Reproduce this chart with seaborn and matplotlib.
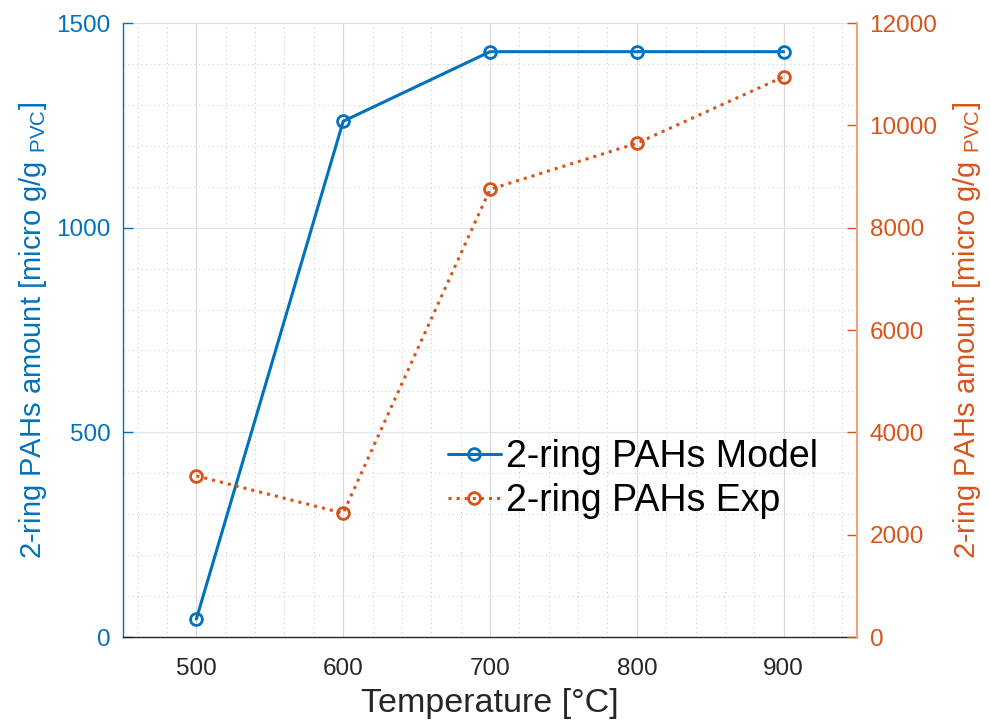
import numpy as np
import pandas as pd
import matplotlib
matplotlib.use('Agg')
import matplotlib.pyplot as plt
from matplotlib.ticker import MultipleLocator
import seaborn as sns

# data
temperature = [500, 600, 700, 800, 900]
model_amount = [44, 1260, 1430, 1430, 1430]
exp_amount = [3150, 2420, 8750, 9650, 10950]

blue = '#0072BD'
orange = '#D95319'
dark = '#262626'

sns.set_style('white')
plt.rcParams['font.family'] = ['Liberation Sans', 'DejaVu Sans']
plt.rcParams['mathtext.fontset'] = 'custom'
plt.rcParams['mathtext.rm'] = 'Liberation Sans'
plt.rcParams['mathtext.it'] = 'Liberation Sans'

df = pd.DataFrame({'T': temperature, 'model': model_amount, 'exp': exp_amount})

fig = plt.figure(figsize=(9.9, 7.22), dpi=100)
ax = fig.add_axes([0.1242, 0.1177, 0.7415, 0.8504])
ax2 = ax.twinx()

sns.lineplot(data=df, x='T', y='model', ax=ax, color=blue, lw=2.2,
             marker='o', markersize=8.5, markerfacecolor='none',
             markeredgewidth=2, markeredgecolor=blue, label='2-ring PAHs Model',
             legend=False)
sns.lineplot(data=df, x='T', y='exp', ax=ax2, color=orange, lw=2.2, ls=':',
             marker='o', markersize=8.5, markerfacecolor='none',
             markeredgewidth=2, markeredgecolor=orange, label='2-ring PAHs Exp',
             legend=False)

ax.set_xlim(450, 950)
ax.set_ylim(0, 1500)
ax2.set_ylim(0, 12000)
ax.xaxis.set_major_locator(MultipleLocator(100))
ax.xaxis.set_minor_locator(MultipleLocator(20))
ax.yaxis.set_major_locator(MultipleLocator(500))
ax.yaxis.set_minor_locator(MultipleLocator(100))
ax2.yaxis.set_major_locator(MultipleLocator(2000))

# grid: gray verticals, bluish horizontals
ax.grid(True, which='major', axis='x', color='#d9d9d9', lw=0.8)
ax.grid(True, which='minor', axis='x', color='#c8c8c8', lw=0.8, ls=(0, (1, 3)))
ax.grid(True, which='major', axis='y', color='#d6e6f3', lw=0.8)
ax.grid(True, which='minor', axis='y', color='#bcd6ec', lw=0.8, ls=(0, (1, 3)))
ax.set_axisbelow(True)

for a in (ax, ax2):
    a.spines['top'].set_visible(False)
ax.spines['right'].set_visible(False)
ax2.spines['left'].set_visible(False)
ax2.spines['bottom'].set_visible(False)
ax.spines['left'].set_color(blue)
ax.spines['bottom'].set_color(dark)
ax2.spines['right'].set_color('#eea47f')
for s in ('left', 'bottom'):
    ax.spines[s].set_linewidth(1.0)
ax2.spines['right'].set_linewidth(1.5)

ax.tick_params(axis='x', which='major', direction='in', length=7, width=1,
               colors=dark, labelsize=17.5, pad=15)
ax.tick_params(axis='x', which='minor', length=0)
ax.tick_params(axis='y', which='major', direction='in', length=7, width=1,
               colors=blue, labelsize=17.5, pad=9)
ax.tick_params(axis='y', which='minor', length=0)
ax2.tick_params(axis='y', which='major', direction='in', length=7, width=1,
                colors=orange, labelsize=17.5, pad=9)

ax.set_xlabel('Temperature [°C]', fontsize=24.5, color=dark, labelpad=6)
ax.set_ylabel('2-ring PAHs amount [micro g/g $_{\\mathrm{PVC}}$]',
              fontsize=21, color=blue, labelpad=5)
ax2.set_ylabel('2-ring PAHs amount [micro g/g $_{\\mathrm{PVC}}$]',
               fontsize=21, color=orange, labelpad=10)

h1, l1 = ax.get_legend_handles_labels()
h2, l2 = ax2.get_legend_handles_labels()
ax2.legend(h1 + h2, l1 + l2, loc='upper left', bbox_to_anchor=(0.443, 0.322),
           frameon=False, fontsize=27, handlelength=1.4, handletextpad=0.15,
           labelspacing=0.2, borderaxespad=0, borderpad=0, labelcolor='black')

fig.savefig('out.png', dpi=100)
